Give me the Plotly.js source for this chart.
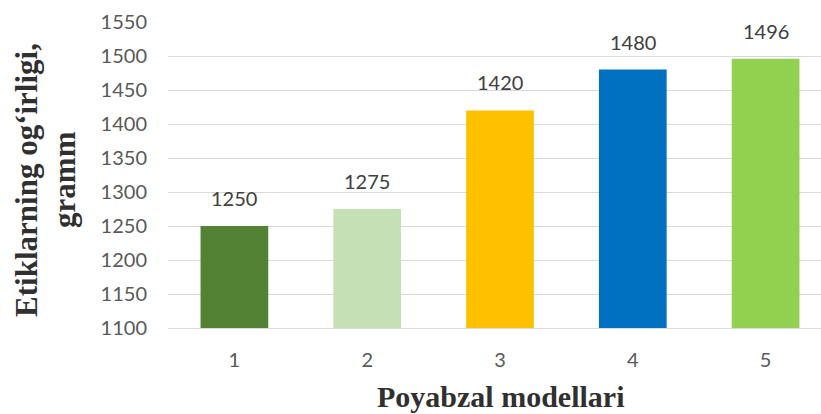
<!DOCTYPE html>
<html>
<head>
<meta charset="utf-8">
<script src="https://cdn.plot.ly/plotly-3.0.1.min.js"></script>
<style>
html,body{margin:0;padding:0;overflow:hidden;background:#fff;}
#chart{width:832px;height:414px;}
</style>
</head>
<body>
<div id="chart"></div>
<script>
const categories = ["1", "2", "3", "4", "5"];
const weights = [1250, 1275, 1420, 1480, 1496];
const barColors = ["#548235", "#C5E0B4", "#FFC000", "#0070C0", "#92D050"];
const yTitleLines = ["Etiklarning og‘irligi,", "gramm"];
const xTitle = "Poyabzal modellari";

const numFont = "Lato, 'Open Sans', sans-serif";
const titleFont = "'Liberation Serif', 'Times New Roman', serif";

const trace = {
  type: "bar",
  x: categories,
  y: weights,
  marker: {color: barColors},
  width: 0.51,
  hoverinfo: "none"
};

const labelAnnotations = categories.map((c, i) => ({
  x: i, y: weights[i], xref: "x", yref: "y",
  text: String(weights[i]), showarrow: false,
  yanchor: "bottom", yshift: 14,
  font: {family: numFont, size: 20, color: "#404040"}
}));

const titleAnnotations = [
  {x: 0, y: 0.484, xref: "paper", yref: "paper", xanchor: "center", yanchor: "middle",
   xshift: -141, textangle: -90, showarrow: false, text: yTitleLines[0],
   font: {family: titleFont, size: 31, color: "#303030", weight: "bold"}},
  {x: 0, y: 0.484, xref: "paper", yref: "paper", xanchor: "center", yanchor: "middle",
   xshift: -103, textangle: -90, showarrow: false, text: yTitleLines[1],
   font: {family: titleFont, size: 31, color: "#303030", weight: "bold"}},
  {x: 0.5, y: 0, xref: "paper", yref: "paper", xanchor: "center", yanchor: "middle",
   yshift: -68, showarrow: false, text: xTitle,
   font: {family: titleFont, size: 30, color: "#303030", weight: "bold"}}
];

const layout = {
  width: 832, height: 414,
  margin: {l: 168, r: 0, t: 22, b: 86},
  paper_bgcolor: "#fff", plot_bgcolor: "#fff",
  showlegend: false,
  xaxis: {
    type: "category",
    range: [-0.5, 4.5],
    showgrid: false,
    showline: true, linecolor: "#d9d9d9", linewidth: 1,
    ticks: "", ticklabelstandoff: 14,
    tickfont: {family: numFont, size: 20, color: "#595959"}
  },
  yaxis: {
    range: [1100, 1550],
    dtick: 50,
    showgrid: true, gridcolor: "#d9d9d9", gridwidth: 1,
    zeroline: false, showline: false,
    ticks: "", ticklabelstandoff: 20,
    tickfont: {family: numFont, size: 20, color: "#595959"}
  },
  annotations: labelAnnotations.concat(titleAnnotations)
};

Plotly.newPlot("chart", [trace], layout, {displayModeBar: false, staticPlot: true});
</script>
</body>
</html>
